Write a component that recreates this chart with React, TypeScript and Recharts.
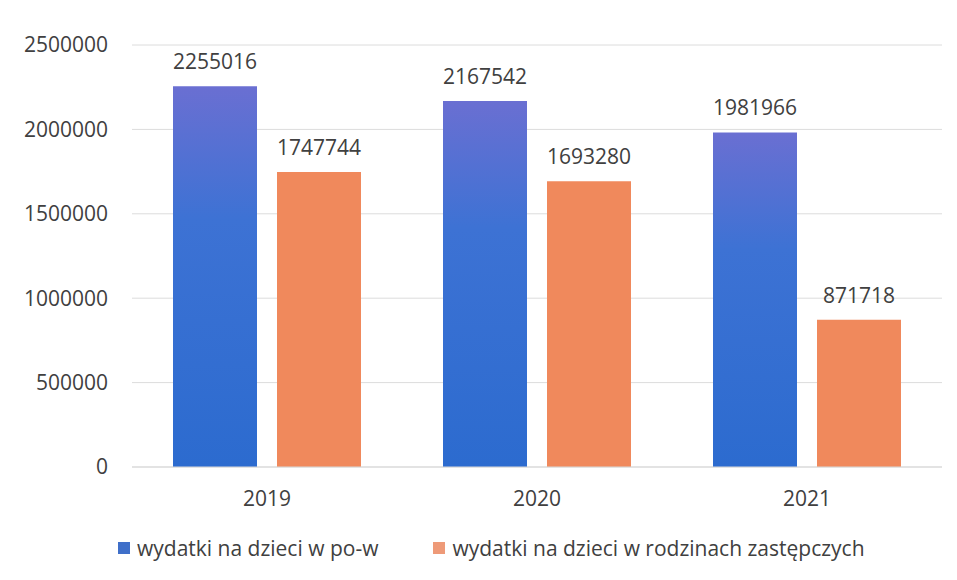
import React from 'react'
import { BarChart, Bar, XAxis, YAxis, CartesianGrid, LabelList, Legend } from 'recharts'

const years = ['2019', '2020', '2021']
const naPow = [2255016, 2167542, 1981966]
const naRodziny = [1747744, 1693280, 871718]
const yTicks = [0, 500000, 1000000, 1500000, 2000000, 2500000]

const seriesNames = {
  pow: 'wydatki na dzieci w po-w',
  rodziny: 'wydatki na dzieci w rodzinach zastępczych',
}

const data = years.map((year, i) => ({
  year,
  pow: naPow[i],
  rodziny: naRodziny[i],
}))

const font = '"Open Sans", "DejaVu Sans", sans-serif'

function ChartLegend() {
  const items = [
    { name: seriesNames.pow, color: '#3f6fc9' },
    { name: seriesNames.rodziny, color: '#ee9a78' },
  ]
  return (
    <div style={{ display: 'flex', paddingLeft: 118, paddingTop: 14, fontFamily: font, fontSize: 21, color: '#404040' }}>
      {items.map((it, i) => (
        <div key={it.name} style={{ display: 'flex', alignItems: 'center', marginRight: i === 0 ? 55 : 0 }}>
          <span style={{ width: 12, height: 12, background: it.color, display: 'inline-block', marginRight: 7 }} />
          <span>{it.name}</span>
        </div>
      ))}
    </div>
  )
}

export default function App() {
  return (
    <div style={{ position: 'absolute', left: 0, top: 0, width: 957, height: 580, background: '#fff' }}>
      <BarChart
        width={957}
        height={580}
        data={data}
        margin={{ top: 45, right: 15, left: 0, bottom: 0 }}
        barCategoryGap={41}
        barGap={20}
      >
        <defs>
          <linearGradient id="blueFill" x1="0" y1="0" x2="0" y2="1">
            <stop offset="0%" stopColor="#6a6fd2" />
            <stop offset="35%" stopColor="#3d72d4" />
            <stop offset="100%" stopColor="#2c6bcf" />
          </linearGradient>
        </defs>
        <CartesianGrid vertical={false} stroke="#dcdcdc" />
        <XAxis
          dataKey="year"
          axisLine={{ stroke: '#d9d9d9' }}
          tickLine={false}
          tickSize={0}
          tickMargin={24}
          height={53}
          tick={{ fill: '#404040', fontSize: 21, fontFamily: font }}
        />
        <YAxis
          domain={[0, 2500000]}
          ticks={yTicks}
          axisLine={false}
          tickLine={false}
          tickSize={0}
          tickMargin={24}
          width={132}
          tick={{ fill: '#404040', fontSize: 21, fontFamily: font }}
        />
        <Legend verticalAlign="bottom" height={60} content={() => <ChartLegend />} />
        <Bar dataKey="pow" name={seriesNames.pow} fill="url(#blueFill)" isAnimationActive={false}>
          <LabelList dataKey="pow" position="top" offset={17} fill="#404040" fontSize={21} fontFamily={font} />
        </Bar>
        <Bar dataKey="rodziny" name={seriesNames.rodziny} fill="#f0895c" isAnimationActive={false}>
          <LabelList dataKey="rodziny" position="top" offset={17} fill="#404040" fontSize={21} fontFamily={font} />
        </Bar>
      </BarChart>
    </div>
  )
}
